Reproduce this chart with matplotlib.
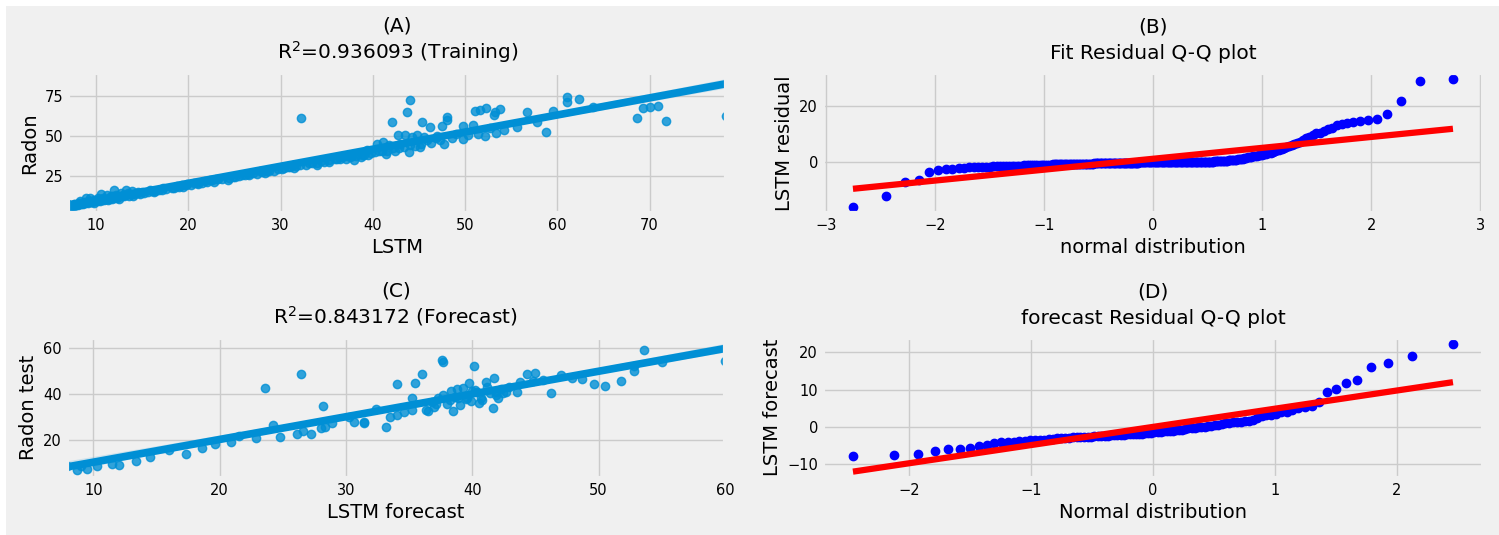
import numpy as np
import matplotlib
matplotlib.use("Agg")
import matplotlib.pyplot as plt
from matplotlib.patches import Rectangle
import seaborn as sns
from statistics import NormalDist

# training set: LSTM fit vs measured radon
lstm_train = [
    78.3, 71.8, 68.6, 58.8, 43.9, 38.0,
    47.7, 70.9, 41.4, 70.0, 45.1, 52.2, 12.5, 33.9, 38.7, 24.3,
    69.3, 49.8, 31.5, 9.8, 22.8, 42.4, 37.1, 16.3, 28.3, 8.6, 11.3, 35.2, 53.4, 19.4,
    14.0, 26.6, 39.5, 7.6, 30.2, 21.0, 36.4,
    7.3, 9.1, 15.2, 27.4, 8.0, 10.4, 13.6, 18.5, 25.1, 34.7, 7.8, 11.7, 17.1, 22.0,
    29.3, 38.2, 44.6, 8.4, 9.6, 12.3, 14.8, 20.3, 26.2, 32.8, 39.1, 7.5, 10.9, 16.4,
    23.7, 31.0, 37.5, 8.8, 13.0, 21.5, 35.9,
    9.9, 12.8, 19.0, 28.0, 33.4, 41.5, 7.2, 8.2, 10.1, 11.4, 14.1, 17.6, 20.9, 24.4,
    28.8, 33.9, 38.8, 46.3, 7.7, 8.6, 9.3, 10.7, 11.9, 13.3, 15.6, 18.2, 22.6, 25.8,
    30.4, 36.1, 40.2, 51.4, 7.4, 8.3, 9.4, 10.3, 12.1, 14.5, 16.8, 19.7, 23.2, 27.0,
    32.1, 42.8,
    7.9, 9.0, 11.1, 13.8, 18.8, 24.8, 29.7, 35.3, 39.8, 45.2, 7.1, 8.1, 8.9, 9.7,
    10.6, 11.5, 12.6, 14.3, 16.1, 19.3, 21.8, 25.5, 28.5, 31.7, 34.4, 37.8, 43.4, 54.2,
    7.6, 8.5, 9.2, 10.0, 11.0, 12.4, 15.0, 17.3, 20.6, 23.0, 26.5, 30.8, 33.1, 36.7,
    41.0, 47.3, 55.6,
    8.7, 12.9, 22.3, 40.7, 9.5, 15.9, 27.8, 44.0, 10.8, 19.9, 37.0, 7.0, 14.6, 48.6,
    11.8, 31.3, 9.8, 42.2, 13.5, 50.3, 12.2, 57.8,
    10.2, 8.3, 11.6, 45.9, 12.7, 39.4, 9.4, 13.9, 43.0, 11.2, 46.8, 8.9, 52.7,
    32.2, 44.0, 43.7, 42.1, 52.3, 51.6, 51.1, 48.0, 45.3, 53.8, 61.1, 48.0, 53.2, 62.4,
    53.1, 61.1, 46.2, 47.5, 56.7, 42.7, 43.5, 49.8, 50.9, 59.5, 44.8, 41.1, 44.2, 12.0,
    40.5, 63.9, 45.6, 10.5, 47.0, 13.2, 41.8, 49.0,
]
radon_train = [
    62.7, 59.9, 61.8, 52.6, 40.5, 35.4,
    45.5, 68.7, 39.3, 68.1, 43.3, 50.4, 10.8, 32.2, 37.1, 22.7,
    67.9, 48.4, 30.1, 8.5, 21.5, 41.2, 35.9, 15.1, 27.2, 7.5, 10.2, 34.2, 52.4, 18.4,
    13.1, 25.7, 38.6, 6.7, 29.4, 20.2, 35.6,
    6.5, 8.3, 14.4, 26.6, 7.3, 9.7, 12.9, 17.8, 24.4, 34.0, 7.2, 11.1, 16.5, 21.4,
    28.7, 37.6, 44.0, 7.9, 9.1, 11.8, 14.3, 19.8, 25.7, 32.3, 38.6, 7.1, 10.5, 16.0,
    23.3, 30.6, 37.1, 8.5, 12.7, 21.2, 35.6,
    9.6, 12.5, 18.7, 27.7, 33.1, 41.2, 7.0, 8.0, 9.9, 11.2, 13.9, 17.4, 20.7, 24.2,
    28.6, 33.7, 38.6, 46.1, 7.6, 8.5, 9.2, 10.6, 11.8, 13.2, 15.5, 18.1, 22.5, 25.7,
    30.3, 36.0, 40.1, 51.3, 7.4, 8.3, 9.4, 10.3, 12.1, 14.5, 16.8, 19.7, 23.2, 27.0,
    32.1, 42.8,
    7.9, 9.0, 11.1, 13.8, 18.8, 24.8, 29.7, 35.3, 39.8, 45.2, 7.2, 8.2, 9.0, 9.8,
    10.7, 11.6, 12.7, 14.4, 16.2, 19.4, 21.9, 25.6, 28.6, 31.8, 34.5, 37.9, 43.5, 54.3,
    7.8, 8.7, 9.4, 10.2, 11.2, 12.6, 15.2, 17.5, 20.8, 23.2, 26.7, 31.0, 33.3, 36.9,
    41.2, 47.5, 55.8,
    9.0, 13.2, 22.6, 41.0, 9.9, 16.3, 28.2, 44.4, 11.3, 20.4, 37.5, 7.6, 15.2, 49.2,
    12.5, 32.0, 10.6, 43.0, 14.4, 51.2, 13.3, 58.9,
    11.4, 9.6, 13.1, 47.5, 14.5, 41.3, 11.4, 16.1, 45.3, 13.6, 49.3, 11.5, 55.4,
    61.6, 72.6, 65.4, 59.3, 67.6, 66.6, 65.8, 62.1, 59.1, 67.3, 74.4, 60.3, 65.1, 73.4,
    63.5, 71.3, 55.8, 56.5, 65.3, 50.7, 50.8, 56.6, 57.4, 65.6, 50.6, 46.7, 49.4, 16.8,
    45.0, 68.1, 49.6, 14.2, 50.4, 16.4, 44.8, 51.8,
]

# test set: LSTM forecast vs measured radon
lstm_test = [
    41.6, 33.2, 50.5, 51.8, 38.5, 46.2, 60.0, 49.6, 27.2, 40.5,
    26.1, 31.4, 36.5, 42.0, 39.0, 17.3, 31.4, 24.8, 33.5, 40.8,
    26.6, 28.3, 30.6, 28.0, 34.0, 52.8, 36.3, 39.9, 43.5, 12.0,
    22.9, 35.2, 48.7, 37.0, 41.9, 13.4, 38.0, 40.7, 34.6, 42.4,
    28.9, 37.1, 14.5, 20.9, 39.5, 8.7, 11.5, 18.6, 9.5, 42.7,
    38.2, 38.9, 52.8, 41.9, 55.0, 47.9, 10.3, 19.6, 39.6, 41.4,
    42.3, 9.0, 16.0, 36.8, 38.6, 40.4, 42.9, 45.6, 21.5, 30.2,
    41.2, 37.7, 40.2, 7.9, 44.8, 40.0, 37.3, 43.8, 32.4, 47.0,
    39.3, 35.2, 38.3, 24.2, 38.8, 41.1, 45.0, 44.3, 39.7, 41.7,
    53.6, 28.2, 35.5, 34.0, 40.1, 36.0, 37.7, 37.6, 23.6, 26.4,
]
radon_test = [
    33.9, 25.6, 43.3, 45.4, 32.6, 40.4, 54.4, 44.4, 22.4, 36.2,
    22.4, 27.3, 32.6, 38.1, 35.2, 13.9, 28.0, 21.3, 30.0, 37.5,
    23.8, 25.5, 27.8, 25.0, 31.0, 49.8, 33.2, 37.0, 40.8, 9.3,
    20.7, 33.0, 46.5, 34.5, 39.4, 10.8, 35.6, 38.4, 32.3, 40.2,
    27.4, 35.5, 12.8, 19.1, 37.7, 6.8, 9.6, 16.7, 7.5, 40.6,
    37.3, 38.0, 51.9, 40.9, 54.0, 46.8, 8.9, 18.2, 38.3, 40.2,
    42.3, 8.5, 15.7, 36.4, 38.5, 40.6, 43.2, 46.0, 21.5, 30.0,
    43.0, 39.4, 41.8, 8.9, 45.4, 41.2, 38.1, 45.1, 33.5, 48.4,
    42.6, 38.3, 41.1, 26.7, 42.3, 45.1, 49.1, 48.8, 44.7, 47.0,
    59.1, 34.8, 44.9, 44.1, 51.9, 48.6, 53.7, 54.7, 42.7, 48.6,
]

ticks_a = [10, 20, 30, 40, 50, 60, 70]
yticks_a = [25, 50, 75]
ticks_b = [-3, -2, -1, 0, 1, 2, 3]
yticks_b = [0, 20]
ticks_c = [10, 20, 30, 40, 50, 60]
yticks_c = [20, 40, 60]
ticks_d = [-2, -1, 0, 1, 2]
yticks_d = [-10, 0, 10, 20]

plt.style.use("fivethirtyeight")
plt.rcParams["font.family"] = ["DejaVu Sans"]
plt.rcParams["xtick.labelsize"] = 10.5
plt.rcParams["ytick.labelsize"] = 10.5


def qq_plot(ax, resid):
    # same ordering / fit as scipy.stats.probplot
    r = np.sort(np.asarray(resid))
    n = len(r)
    m = (np.arange(1, n + 1) - 0.3175) / (n + 0.365)
    m[-1] = 0.5 ** (1.0 / n)
    m[0] = 1 - m[-1]
    q = np.array([NormalDist().inv_cdf(p) for p in m])
    slope, icpt = np.polyfit(q, r, 1)
    ax.plot(q, r, "bo")
    ax.plot(q, slope * q + icpt, "r-", lw=4.5)


fig = plt.figure(figsize=(14.99, 5.35), dpi=100, facecolor="#f0f0f0")
# thin white strip on top and left like the original screenshot
fig.add_artist(Rectangle((0, 1 - 6 / 535), 1, 6 / 535, transform=fig.transFigure,
                         facecolor="white", edgecolor="none", zorder=10))
fig.add_artist(Rectangle((0, 0), 6 / 1499, 1, transform=fig.transFigure,
                         facecolor="white", edgecolor="none", zorder=10))

axA = fig.add_axes([0.0456, 0.6019, 0.4388, 0.2622])
axB = fig.add_axes([0.549, 0.6019, 0.4403, 0.2622])
axC = fig.add_axes([0.0446, 0.1065, 0.439, 0.2626])
axD = fig.add_axes([0.549, 0.1065, 0.4403, 0.2626])

# (A)
sns.regplot(x=np.array(lstm_train), y=np.array(radon_train), ax=axA, seed=0,
            line_kws={"lw": 5.5})
axA.set_xlim(min(lstm_train), max(lstm_train))
axA.set_xticks(ticks_a)
axA.set_yticks(yticks_a)
axA.set_xlabel("LSTM", fontsize=14)
axA.set_ylabel("Radon", fontsize=14)
axA.set_title("(A)\nR$^2$=0.936093 (Training)", fontsize=14.5, pad=10)

# (B)
qq_plot(axB, np.array(radon_train) - np.array(lstm_train))
axB.set_xticks(ticks_b)
axB.set_yticks(yticks_b)
axB.set_xlabel("normal distribution", fontsize=14)
axB.set_ylabel("LSTM residual", fontsize=14)
axB.set_title("(B)\nFit Residual Q-Q plot", fontsize=14.5, pad=10, linespacing=1.5)

# (C)
sns.regplot(x=np.array(lstm_test), y=np.array(radon_test), ax=axC, seed=0,
            line_kws={"lw": 5.5})
axC.set_xlim(min(lstm_test), max(lstm_test))
axC.set_xticks(ticks_c)
axC.set_yticks(yticks_c)
axC.set_xlabel("LSTM forecast", fontsize=14)
axC.set_ylabel("Radon test", fontsize=14)
axC.set_title("(C)\nR$^2$=0.843172 (Forecast)", fontsize=14.5, pad=10)

# (D)
qq_plot(axD, np.array(radon_test) - np.array(lstm_test))
axD.set_xticks(ticks_d)
axD.set_yticks(yticks_d)
axD.set_xlabel("Normal distribution", fontsize=14)
axD.set_ylabel("LSTM forecast", fontsize=14)
axD.set_title("(D)\nforecast Residual Q-Q plot", fontsize=14.5, pad=10, linespacing=1.5)

fig.savefig("out.png", dpi=100, facecolor=fig.get_facecolor())
